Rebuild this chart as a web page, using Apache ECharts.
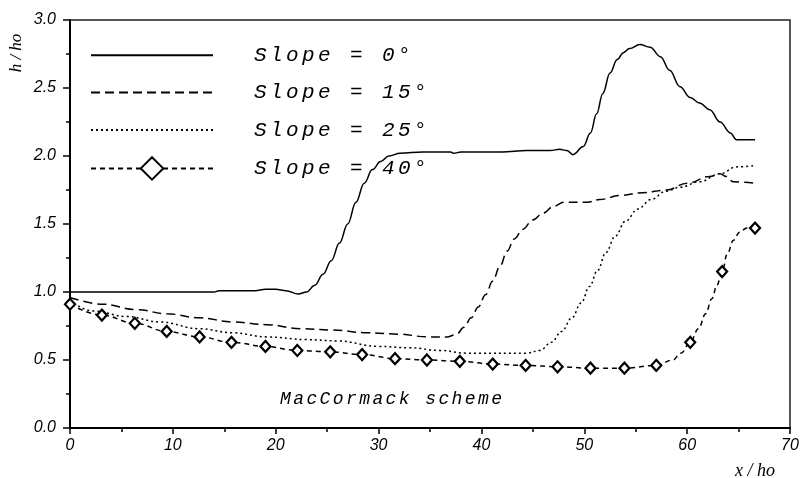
<!DOCTYPE html>
<html><head><meta charset="utf-8">
<script src="https://cdn.jsdelivr.net/npm/echarts@6/dist/echarts.min.js"></script>
<style>html,body{margin:0;padding:0;background:#fff}#c{width:802px;height:478px}</style>
</head><body><div id="c"></div>
<script>
const seriesNames = ['Slope = 0°', 'Slope = 15°', 'Slope = 25°', 'Slope = 40°'];
const xAxisTitle = 'x / ho';
const yAxisTitle = 'h / ho';
const noteText = 'MacCormack scheme';

// Slope = 0°
const s0X = [0, 8, 14, 14.5, 18, 19, 20, 21, 22.2, 23.0, 23.8, 24.6, 25.4, 26.2, 27.0, 27.8, 28.6, 29.4, 30.2, 31.0, 32.1, 34.3, 37, 37.3, 38, 42, 44.4, 45, 46.7, 47.6, 48.3, 48.9, 49.9, 50.6, 51.2, 51.8, 52.5, 53.2, 53.8, 54.4, 55.4, 56.4, 57.4, 58.3, 59.3, 60.3, 61.2, 62.2, 63.2, 64.2, 64.8, 66.6];
const s0Y = [1.0, 1.0, 1.0, 1.01, 1.01, 1.02, 1.02, 1.01, 0.985, 1.0, 1.05, 1.13, 1.23, 1.36, 1.5, 1.66, 1.8, 1.9, 1.96, 2.0, 2.02, 2.03, 2.03, 2.02, 2.03, 2.03, 2.04, 2.04, 2.04, 2.05, 2.04, 2.01, 2.07, 2.17, 2.31, 2.46, 2.61, 2.71, 2.76, 2.79, 2.82, 2.8, 2.73, 2.63, 2.51, 2.43, 2.39, 2.34, 2.25, 2.17, 2.12, 2.12];

// Slope = 15°
const s15X = [0, 3.2, 6.5, 9.4, 12.6, 15.8, 19.1, 22.4, 25.6, 28.9, 32, 34.7, 36.7, 37.6, 38.3, 39.0, 39.7, 40.4, 41.1, 41.8, 42.5, 43.2, 44.0, 45.0, 46.0, 47, 48, 50.3, 51.5, 53.5, 55.7, 58, 60, 62.2, 63.2, 63.8, 64.5, 66.6];
const s15Y = [0.96, 0.91, 0.87, 0.84, 0.81, 0.78, 0.76, 0.73, 0.72, 0.7, 0.69, 0.67, 0.67, 0.69, 0.74, 0.81, 0.89, 0.98, 1.08, 1.19, 1.3, 1.39, 1.46, 1.53, 1.58, 1.63, 1.66, 1.66, 1.68, 1.71, 1.73, 1.75, 1.8, 1.85, 1.87, 1.85, 1.81, 1.8];

// Slope = 25°
const s25X = [0, 2.2, 5.5, 8.7, 12.6, 15.8, 19.1, 23, 26, 30, 33, 36, 38.6, 44.4, 45.7, 46.8, 47.8, 48.8, 49.7, 50.5, 51.3, 52.1, 53.0, 54.0, 55.2, 56.5, 57.9, 59.3, 61.2, 63.2, 64.8, 66.6];
const s25Y = [0.94, 0.86, 0.82, 0.78, 0.73, 0.7, 0.67, 0.65, 0.64, 0.6, 0.59, 0.57, 0.55, 0.55, 0.57, 0.63, 0.71, 0.81, 0.92, 1.04, 1.16, 1.29, 1.41, 1.52, 1.61, 1.68, 1.74, 1.77, 1.81, 1.87, 1.92, 1.93];

// Slope = 40° (curve)
const s40X = [0, 3.1, 6.3, 9.4, 12.6, 15.7, 19.0, 22.1, 25.3, 28.4, 31.6, 34.7, 37.9, 41.1, 44.3, 47.4, 50.6, 53.9, 57.0, 58.6, 59.4, 60.3, 61.1, 61.8, 62.4, 62.9, 63.4, 63.9, 64.5, 65.1, 65.8, 66.6];
const s40Y = [0.91, 0.83, 0.77, 0.71, 0.67, 0.63, 0.6, 0.57, 0.56, 0.54, 0.51, 0.5, 0.49, 0.47, 0.46, 0.45, 0.44, 0.44, 0.46, 0.5, 0.55, 0.63, 0.73, 0.84, 0.95, 1.05, 1.15, 1.28, 1.38, 1.44, 1.47, 1.47];

// Slope = 40° (markers)
const m40X = [0, 3.1, 6.3, 9.4, 12.6, 15.7, 19.0, 22.1, 25.3, 28.4, 31.6, 34.7, 37.9, 41.1, 44.3, 47.4, 50.6, 53.9, 57.0, 60.3, 63.4, 66.6];
const m40Y = [0.91, 0.83, 0.77, 0.71, 0.67, 0.63, 0.6, 0.57, 0.56, 0.54, 0.51, 0.5, 0.49, 0.47, 0.46, 0.45, 0.44, 0.44, 0.46, 0.63, 1.15, 1.47];

const xRange = {min: 0, max: 70, step: 10};
const yRange = {min: 0, max: 3, step: 0.5};

function pairs(xs, ys) { return xs.map((x, i) => [x, ys[i]]); }
function spaced(str, key) { return Array.from(str).map(ch => '{' + key + '|' + ch + '}').join(''); }

const chart = echarts.init(document.getElementById('c'), null, {renderer: 'canvas'});
const labelFont = {color: '#000', fontSize: 16, fontStyle: 'italic', fontFamily: 'Liberation Sans'};
const axisLineStyle = {color: '#000', width: 2};
const tickStyle = {color: '#000', width: 1.5};

function lineSeries(name, xs, ys, dash, extra) {
  return Object.assign({
    name: name, type: 'line', data: pairs(xs, ys), symbol: 'none',
    smooth: 0.4, smoothMonotone: 'x',
    lineStyle: {color: '#000', width: 1.5, type: dash},
    itemStyle: {color: '#000'},
    silent: true, z: 2
  }, extra || {});
}

chart.setOption({
  animation: false,
  backgroundColor: '#fff',
  grid: {left: 70, right: 12, top: 20, bottom: 50, show: true, borderColor: '#222', borderWidth: 1.5},
  xAxis: {
    type: 'value', min: xRange.min, max: xRange.max, interval: xRange.step,
    axisLine: {show: true, onZero: false, lineStyle: axisLineStyle},
    axisTick: {show: true, inside: false, length: 6, lineStyle: tickStyle},
    minorTick: {show: true, splitNumber: 2, length: 4, lineStyle: tickStyle},
    splitLine: {show: false},
    axisLabel: Object.assign({margin: 10, showMinLabel: true, showMaxLabel: true}, labelFont)
  },
  yAxis: {
    type: 'value', min: yRange.min, max: yRange.max, interval: yRange.step,
    axisLine: {show: true, onZero: false, lineStyle: axisLineStyle},
    axisTick: {show: true, inside: false, length: 7, lineStyle: tickStyle},
    minorTick: {show: true, splitNumber: 2, length: 4, lineStyle: tickStyle},
    splitLine: {show: false},
    axisLabel: Object.assign({margin: 14, showMinLabel: true, showMaxLabel: true, formatter: v => v.toFixed(1)}, labelFont)
  },
  legend: {
    orient: 'vertical', left: 85, top: 39, itemWidth: 122, itemHeight: 28, itemGap: 15,
    selectedMode: false,
    data: [
      {name: seriesNames[0], itemStyle: {opacity: 0}},
      {name: seriesNames[1], itemStyle: {opacity: 0}},
      {name: seriesNames[2], itemStyle: {opacity: 0}},
      {name: seriesNames[3]}
    ],
    formatter: name => '{p| }' + spaced(name, 'c'),
    textStyle: {
      rich: {
        p: {width: 36, fontSize: 20},
        c: {width: 16, fontSize: 21, fontStyle: 'italic', fontFamily: 'Liberation Mono', color: '#000'}
      }
    }
  },
  series: [
    lineSeries(seriesNames[0], s0X, s0Y, 'solid'),
    lineSeries(seriesNames[1], s15X, s15Y, [9, 5]),
    lineSeries(seriesNames[2], s25X, s25Y, [2, 3]),
    lineSeries(seriesNames[3], s40X, s40Y, [5, 4], {symbol: 'emptyDiamond', showSymbol: false}),
    {
      name: 'markers40', type: 'scatter', data: pairs(m40X, m40Y),
      symbol: 'diamond', symbolSize: [10, 11], silent: true, z: 3,
      itemStyle: {color: '#fff', borderColor: '#000', borderWidth: 2.2, opacity: 1}
    }
  ],
  graphic: [
    {type: 'text', x: 17, y: 53, rotation: Math.PI / 2, z: 10,
     style: {text: yAxisTitle, font: 'italic 17px "Liberation Serif"', fill: '#000', align: 'center', verticalAlign: 'middle'}},
    {type: 'text', x: 755, y: 471, z: 10,
     style: {text: xAxisTitle, font: 'italic 18px "Liberation Serif"', fill: '#000', align: 'center', verticalAlign: 'middle'}},
    {type: 'text', x: 280, y: 399, z: 10,
     style: {text: spaced(noteText, 'n'), fill: '#000', verticalAlign: 'middle',
       rich: {n: {width: 13.2, fontSize: 18, fontStyle: 'italic', fontFamily: 'Liberation Mono', fill: '#000', color: '#000'}}}}
  ]
});
</script>
</body></html>
